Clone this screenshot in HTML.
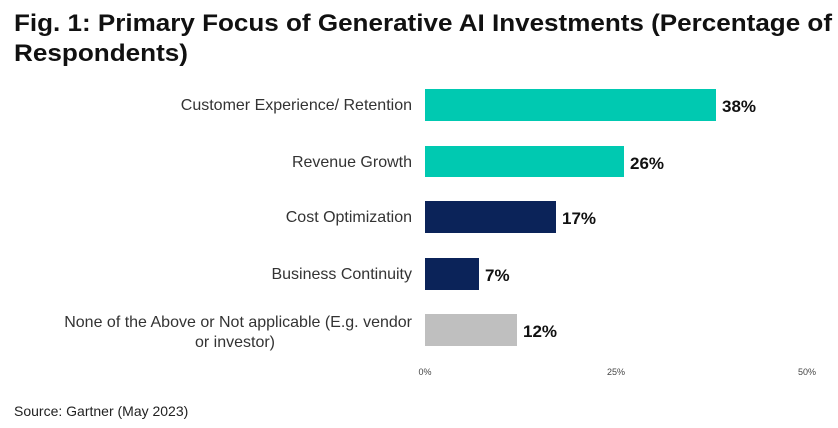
<!DOCTYPE html>
<html><head><style>
html,body{margin:0;padding:0;background:#fff;}
svg{display:block}
</style></head><body>
<svg width="838" height="428" xmlns="http://www.w3.org/2000/svg" font-family="Liberation Sans, Arial, sans-serif">
<text x="14" y="31" font-size="24" font-weight="bold" fill="#111" textLength="818" lengthAdjust="spacingAndGlyphs">Fig. 1: Primary Focus of Generative AI Investments (Percentage of</text>
<text x="14" y="61" font-size="24" font-weight="bold" fill="#111" textLength="174" lengthAdjust="spacingAndGlyphs">Respondents)</text>
<g font-size="16" fill="#333" text-anchor="end">
<text x="412" y="110">Customer Experience/ Retention</text>
<text x="412" y="167">Revenue Growth</text>
<text x="412" y="222">Cost Optimization</text>
<text x="412" y="279">Business Continuity</text>
<text x="412" y="327">None of the Above or Not applicable (E.g. vendor</text>
<text x="275" y="347">or investor)</text>
</g>
<rect x="425" y="89" width="291" height="32" fill="#00c9b1"/>
<rect x="425" y="146" width="199" height="31" fill="#00c9b1"/>
<rect x="425" y="201" width="131" height="32" fill="#0b2359"/>
<rect x="425" y="258" width="54" height="32" fill="#0b2359"/>
<rect x="425" y="314" width="92" height="32" fill="#bfbfbf"/>
<g font-size="17" font-weight="bold" fill="#111">
<text x="722" y="112">38%</text>
<text x="630" y="169">26%</text>
<text x="562" y="224">17%</text>
<text x="485" y="281">7%</text>
<text x="523" y="337">12%</text>
</g>
<g font-size="9" fill="#444" text-anchor="middle">
<text x="425" y="375">0%</text>
<text x="616" y="375">25%</text>
<text x="807" y="375">50%</text>
</g>
<text x="14" y="416" font-size="14" fill="#222">Source: Gartner (May 2023)</text>
</svg>
</body></html>
